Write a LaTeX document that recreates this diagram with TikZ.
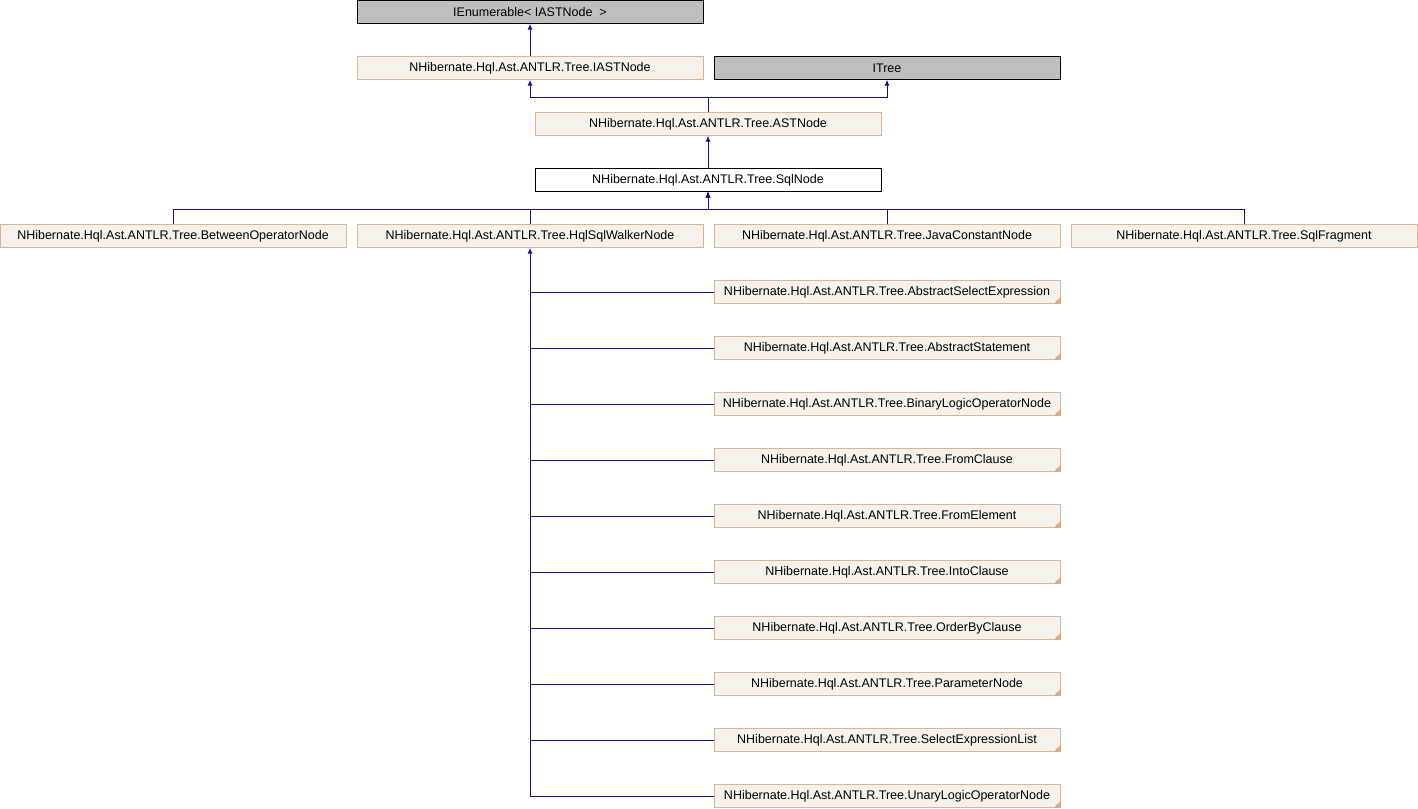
\documentclass[tikz,border=0pt]{standalone}
\usepackage{fontspec}
\setmainfont{Liberation Sans}
\usetikzlibrary{arrows.meta}
\definecolor{edgeblue}{HTML}{10108C}
\definecolor{nfill}{HTML}{F8F2EC}
\definecolor{ndraw}{HTML}{DDB48F}
\definecolor{gfill}{HTML}{BFBFBF}
\definecolor{foldc}{HTML}{D8A878}
\begin{document}
\begin{tikzpicture}[x=1pt,y=-1pt,
  box/.style={draw=ndraw,fill=nfill,line width=0.9pt,minimum width=346pt,minimum height=22.5pt,inner sep=0pt,font=\fontsize{12.5}{14}\selectfont,text=black},
  gbox/.style={box,draw=black,fill=gfill},
  wbox/.style={box,draw=black,fill=white},
  edge/.style={draw=edgeblue,line width=1pt,-{Latex[length=6pt,width=5pt]}},
  plain/.style={draw=edgeblue,line width=1pt}]
\useasboundingbox (0,0) rectangle (1418,808);
\node[gbox] (ienum) at (530,12) {IEnumerable< IASTNode\ \ >};
\node[box] (iast) at (530,68) {NHibernate.Hql.Ast.ANTLR.Tree.IASTNode};
\node[gbox] (itree) at (887,68) {ITree};
\node[box] (ast) at (708,124) {NHibernate.Hql.Ast.ANTLR.Tree.ASTNode};
\node[wbox] (sql) at (708,180) {NHibernate.Hql.Ast.ANTLR.Tree.SqlNode};
\node[box] (between) at (173,236) {NHibernate.Hql.Ast.ANTLR.Tree.BetweenOperatorNode};
\node[box] (walker) at (530,236) {NHibernate.Hql.Ast.ANTLR.Tree.HqlSqlWalkerNode};
\node[box] (java) at (887,236) {NHibernate.Hql.Ast.ANTLR.Tree.JavaConstantNode};
\node[box] (frag) at (1244,236) {NHibernate.Hql.Ast.ANTLR.Tree.SqlFragment};
\foreach \n/\t [count=\i from 0] in {c0/AbstractSelectExpression,c1/AbstractStatement,c2/BinaryLogicOperatorNode,c3/FromClause,c4/FromElement,c5/IntoClause,c6/OrderByClause,c7/ParameterNode,c8/SelectExpressionList,c9/UnaryLogicOperatorNode}{
  \node[box] (\n) at (887,{292+56*\i}) {NHibernate.Hql.Ast.ANTLR.Tree.\t};
  \fill[foldc] ([shift={(-6,-0.45)}]\n.south east) -- ([shift={(-0.45,-0.45)}]\n.south east) -- ([shift={(-0.45,-6)}]\n.south east) -- cycle;
  \draw[plain] (\n.west) -- (walker.south |- \n.west);
}
\draw[edge] (iast.north) -- (ienum.south);
\draw[edge] (ast.north) -- ++(0,-15) -| (iast.south);
\draw[edge] (ast.north) -- ++(0,-15) -| (itree.south);
\draw[edge] (sql.north) -- (ast.south);
\foreach \n in {between,walker,java,frag}{
  \draw[edge] (\n.north) -- ++(0,-15) -| (sql.south);
}
\draw[edge] (walker.south |- c9.west) -- (walker.south);
\end{tikzpicture}
\end{document}
